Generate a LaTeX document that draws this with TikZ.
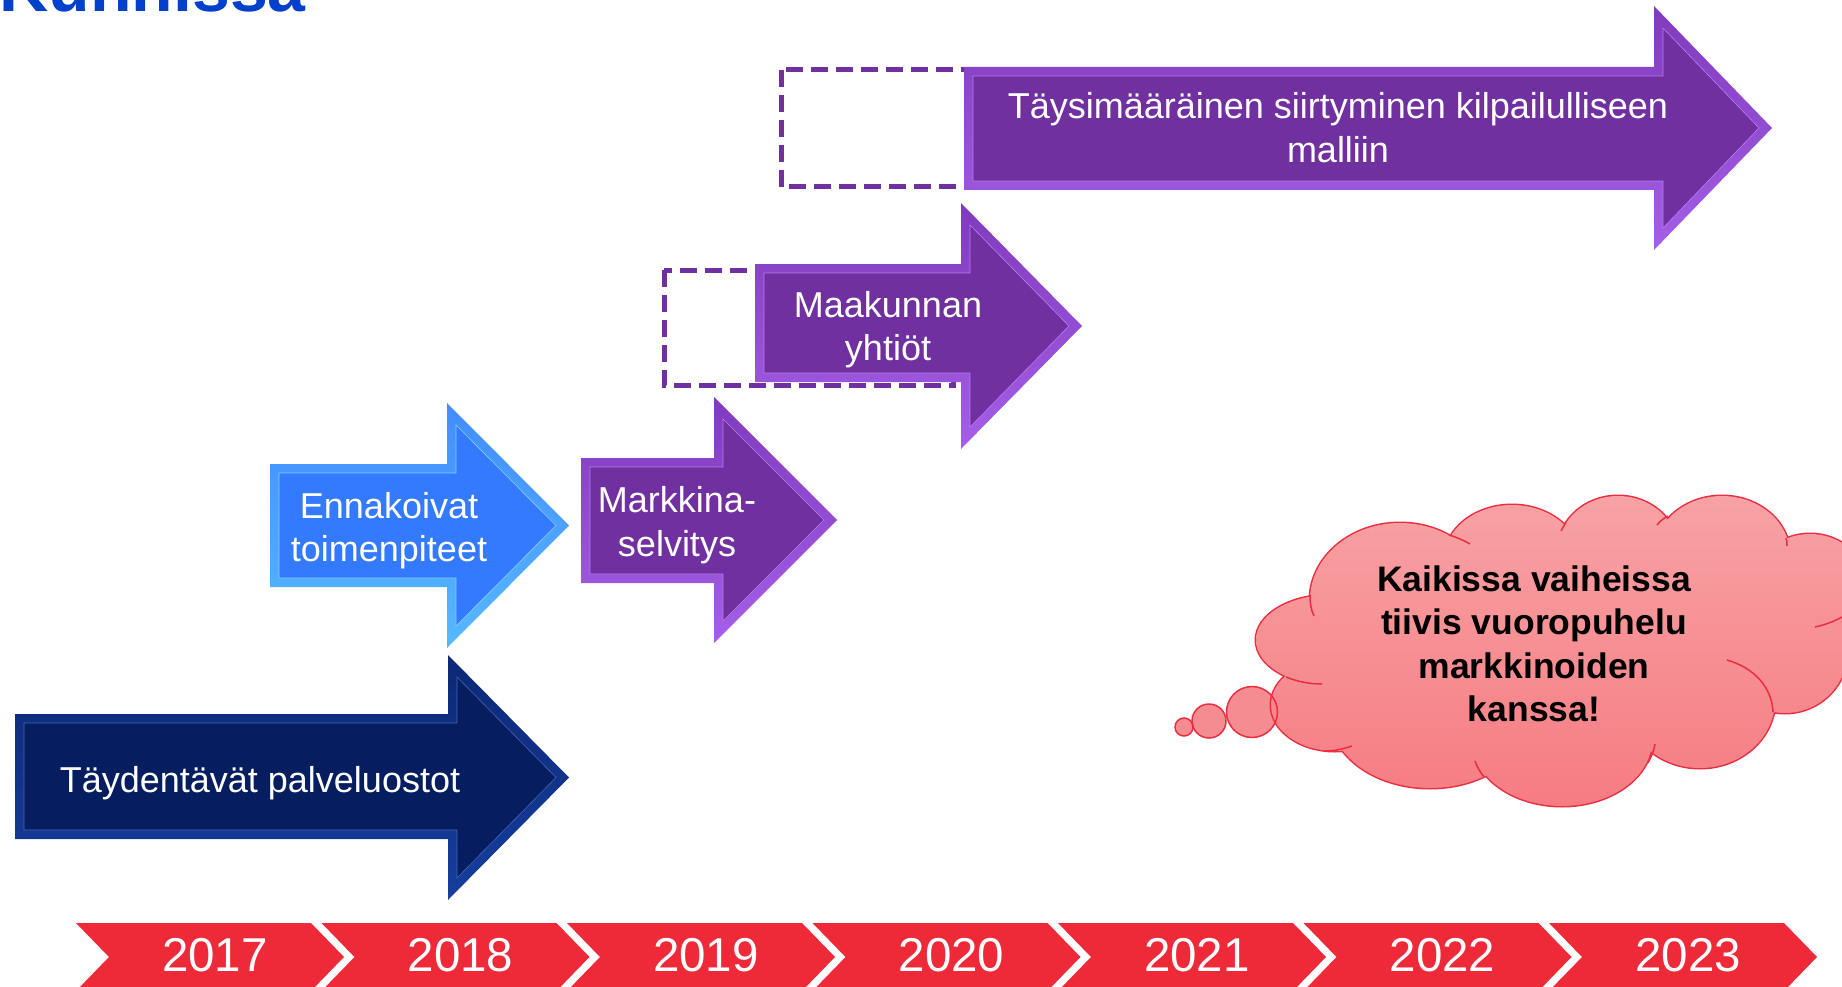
\documentclass[tikz,border=0pt]{standalone}
\usepackage{fontspec}
\setmainfont{Liberation Sans}
\definecolor{navymain}{RGB}{6,30,96}
\definecolor{navyedgeT}{RGB}{12,40,118}
\definecolor{navyedgeB}{RGB}{22,62,158}
\definecolor{bluemain}{RGB}{51,122,255}
\definecolor{blueedgeT}{RGB}{66,140,255}
\definecolor{blueedgeB}{RGB}{85,185,255}
\definecolor{purpmain}{RGB}{112,48,160}
\definecolor{purpedgeT}{RGB}{128,58,188}
\definecolor{purpedgeB}{RGB}{165,95,232}
\definecolor{chevred}{RGB}{238,41,56}
\definecolor{cloudtop}{RGB}{247,162,165}
\definecolor{cloudbot}{RGB}{246,124,130}
\definecolor{bubblefill}{RGB}{245,140,146}
\definecolor{cloudedge}{RGB}{234,46,66}
\definecolor{titleblue}{RGB}{0,64,204}

% bevelled block arrow: L, T, B, head x, tip x, head top, head bottom, inner style, outer style
\newcommand\bevarrow[9]{%
  \pgfmathsetmacro\bvY{(#6+#7)/2}%
  \pgfmathsetmacro\bvL{#1+9}\pgfmathsetmacro\bvT{#2+9}\pgfmathsetmacro\bvB{#3-9}%
  \pgfmathsetmacro\bvH{#4+9}\pgfmathsetmacro\bvX{#5-13}%
  \pgfmathsetmacro\bvHT{#6+22}\pgfmathsetmacro\bvHB{#7-22}%
  \path[#9] (#1,#2) -- (#4,#2) -- (#4,#6) -- (#5,\bvY) -- (#4,#7) -- (#4,#3) -- (#1,#3) -- cycle;
  \path[#8] (\bvL,\bvT) -- (\bvH,\bvT) -- (\bvH,\bvHT) -- (\bvX,\bvY) -- (\bvH,\bvHB) -- (\bvH,\bvB) -- (\bvL,\bvB) -- cycle;
}

\tikzset{
  navyouter/.style={top color=navyedgeT, bottom color=navyedgeB},
  navyinner/.style={fill=navymain, draw=navyedgeB!80!white, line width=0.6pt},
  blueouter/.style={top color=blueedgeT, bottom color=blueedgeB},
  blueinner/.style={fill=bluemain, draw=blueedgeB!70!white, line width=0.6pt},
  purpouter/.style={top color=purpedgeT, bottom color=purpedgeB},
  purpinner/.style={fill=purpmain, draw=purpedgeB!80!white, line width=0.6pt},
  arrowtxt/.style={text=white, font=\fontsize{36}{43}\selectfont, anchor=base, inner sep=0pt},
  cloudtxt/.style={text=black, font=\bfseries\fontsize{35.5}{43}\selectfont, anchor=base, inner sep=0pt},
  yeartxt/.style={text=white, font=\fontsize{47.5}{57}\selectfont, anchor=base, inner sep=0pt},
  dashbox/.style={draw=purpmain, line width=5pt, dash pattern=on 17pt off 8pt},
  crease/.style={draw=cloudedge, line width=1.5pt},
  bubble/.style={draw=cloudedge, line width=1.5pt},
}

\begin{document}
\begin{tikzpicture}[x=1pt,y=-1pt]
\useasboundingbox (0,0) rectangle (1842,987);
\clip (0,0) rectangle (1842,987);

% title fragment
\node[text=titleblue, font=\bfseries\fontsize{68}{80}\selectfont, anchor=base east, inner sep=0pt] (title) at (306,12) {Kunnissa};

% dashed placeholder boxes
\draw[dashbox] (781,70) rectangle (1000,187);
\draw[dashbox] (664,270) rectangle (953,385);

% arrows
\bevarrow{15}{714}{839}{448}{569}{655}{900}{navyinner}{navyouter}
\bevarrow{270}{464}{587}{447}{569}{403}{648}{blueinner}{blueouter}
\bevarrow{581}{458}{583}{714}{837}{397}{643}{purpinner}{purpouter}
\bevarrow{755}{264}{382}{961}{1082}{203}{449}{purpinner}{purpouter}
\bevarrow{964}{67}{190}{1654}{1772}{6}{250}{purpinner}{purpouter}

% arrow labels
\node[arrowtxt] (t1) at (260,792) {Täydentävät palveluostot};
\node[arrowtxt] (e1) at (389,518) {Ennakoivat};
\node[arrowtxt] (e2) at (389,561) {toimenpiteet};
\node[arrowtxt] (m1) at (677,512) {Markkina-};
\node[arrowtxt] (m2) at (677,556) {selvitys};
\node[arrowtxt] (k1) at (888,317) {Maakunnan};
\node[arrowtxt] (k2) at (888,360) {yhtiöt};
\node[arrowtxt] (s1) at (1338,119) {Täysimääräinen siirtyminen kilpailulliseen};
\node[arrowtxt] (s2) at (1338,163) {malliin};

% thought bubbles (fill)
\fill[bubblefill] (1184,727) circle [radius=9pt] (1209,721) circle [radius=17pt] (1252,712) circle [radius=25.5pt];

% cloud outline then fill
\foreach \cx/\cy/\rx/\ry in {1400/600/90/77, 1512/560/68/55, 1618/550/60/54, 1722/555/68/59,
  1810/582/55/48, 1785/650/63/63, 1330/640/74/45, 1335/705/64/46, 1430/715/100/73,
  1562/740/90/66, 1700/700/75/68}
  \draw[cloudedge, line width=3pt] (\cx,\cy) ellipse [x radius=\rx pt, y radius=\ry pt];
\shade[top color=cloudtop, bottom color=cloudbot]
  (1400,600) ellipse [x radius=90pt, y radius=77pt]
  (1512,560) ellipse [x radius=68pt, y radius=55pt]
  (1618,550) ellipse [x radius=60pt, y radius=54pt]
  (1722,555) ellipse [x radius=68pt, y radius=59pt]
  (1810,582) ellipse [x radius=55pt, y radius=48pt]
  (1785,650) ellipse [x radius=63pt, y radius=63pt]
  (1330,640) ellipse [x radius=74pt, y radius=45pt]
  (1335,705) ellipse [x radius=64pt, y radius=46pt]
  (1430,715) ellipse [x radius=100pt, y radius=73pt]
  (1562,740) ellipse [x radius=90pt, y radius=66pt]
  (1700,700) ellipse [x radius=75pt, y radius=68pt]
  (1540,640) ellipse [x radius=200pt, y radius=110pt];

% creases
\draw[crease] (1310,595) .. controls (1310,603) and (1311,610) .. (1314,616);
\draw[crease] (1449,535) .. controls (1456,537) and (1463,540) .. (1470,544);
\draw[crease] (1566,522) .. controls (1564,525) and (1563,528) .. (1561,531);
\draw[crease] (1668,516) .. controls (1664,518) and (1660,521) .. (1657,525);
\draw[crease] (1786,538) .. controls (1787,540) and (1787,543) .. (1787,546);
\draw[crease] (1815,627) .. controls (1824,625) and (1833,622) .. (1842,617);
\draw[crease] (1286,677) .. controls (1296,681) and (1308,684) .. (1322,684);
\draw[crease] (1325,751) .. controls (1334,751) and (1343,749) .. (1352,746);
\draw[crease] (1475,761) .. controls (1477,767) and (1480,772) .. (1484,777);
\draw[crease] (1655,744) .. controls (1654,751) and (1651,757) .. (1648,763);
\draw[crease] (1727,660) .. controls (1755,668) and (1772,688) .. (1773,712);

% bubble outlines
\draw[bubble] (1184,727) circle [radius=9pt];
\draw[bubble] (1209,721) circle [radius=17pt];
\draw[bubble] (1252,712) circle [radius=25.5pt];

% cloud text
\node[cloudtxt] (c1) at (1534,591) {Kaikissa vaiheissa};
\node[cloudtxt] (c2) at (1534,634) {tiivis vuoropuhelu};
\node[cloudtxt] (c3) at (1534,678) {markkinoiden};
\node[cloudtxt] (c4) at (1534,721) {kanssa!};

% timeline chevrons
\foreach \yr [count=\i from 0] in {2017,2018,2019,2020,2021,2022,2023} {
  \pgfmathsetmacro\cl{76+245.5*\i}
  \fill[chevred] (\cl,923) -- ++(235,0) -- ++(33,34) -- ++(-33,34) -- ++(-235,0) -- ++(33,-34) -- cycle;
  \node[yeartxt] (y\yr) at (\cl+139,971) {\yr};
}
\end{tikzpicture}
\end{document}
